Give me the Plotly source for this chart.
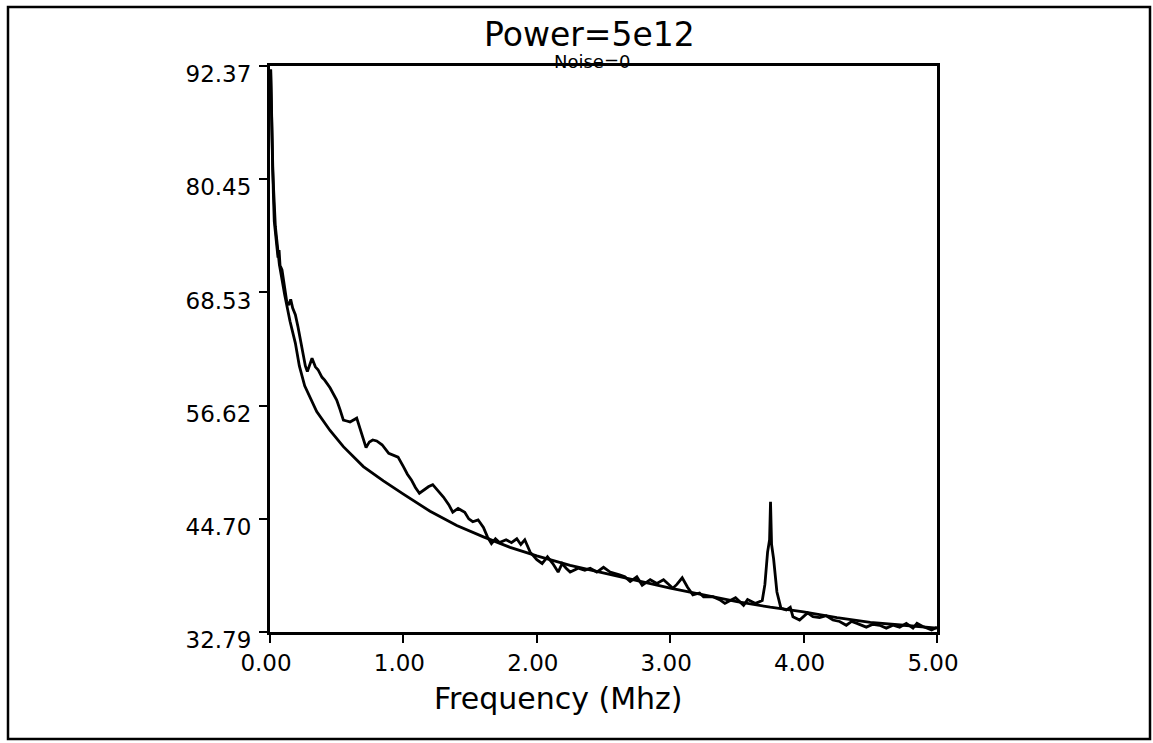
import plotly.graph_objects as go

# ---- data ----
smooth_freq = [0.005, 0.01, 0.02, 0.04, 0.07, 0.11, 0.15, 0.19, 0.22, 0.26, 0.35, 0.45, 0.55,
               0.70, 0.85, 1.00, 1.20, 1.40, 1.60, 1.80, 2.00, 2.25, 2.50, 2.75, 3.00, 3.25,
               3.50, 3.75, 4.00, 4.25, 4.50, 4.75, 5.00]
smooth_power = [92.0, 88.0, 81.5, 75.5, 71.5, 68.3, 65.5, 63.2, 60.8, 58.7, 56.0, 54.0, 52.3,
                50.2, 48.7, 47.3, 45.5, 44.0, 42.8, 41.7, 40.8, 39.8, 39.0, 38.2, 37.4, 36.7,
                36.0, 35.4, 34.9, 34.3, 33.8, 33.5, 33.2]

noisy_freq = [0.005, 0.012, 0.018, 0.025, 0.032, 0.04, 0.05, 0.06, 0.068, 0.075, 0.09, 0.11,
              0.125, 0.14, 0.155, 0.17, 0.19, 0.21, 0.24, 0.265, 0.28, 0.30, 0.315, 0.34, 0.36,
              0.39, 0.41, 0.45, 0.48, 0.50, 0.525, 0.55, 0.575, 0.60, 0.65, 0.68, 0.72, 0.745,
              0.77, 0.80, 0.84, 0.89, 0.93, 0.96, 1.00, 1.03, 1.06, 1.09, 1.12, 1.15, 1.19,
              1.22, 1.26, 1.30, 1.34, 1.37, 1.41, 1.46, 1.49, 1.52, 1.56, 1.60, 1.63, 1.66,
              1.69, 1.72, 1.77, 1.81, 1.85, 1.88, 1.91, 1.95, 2.00, 2.04, 2.08, 2.12, 2.16,
              2.19, 2.22, 2.25, 2.31, 2.36, 2.40, 2.45, 2.50, 2.55, 2.62, 2.66, 2.70, 2.75,
              2.79, 2.85, 2.90, 2.95, 3.02, 3.05, 3.09, 3.13, 3.17, 3.22, 3.25, 3.32, 3.37,
              3.41, 3.45, 3.49, 3.55, 3.58, 3.64, 3.69, 3.71, 3.73, 3.745, 3.752, 3.76, 3.775,
              3.80, 3.83, 3.87, 3.90, 3.92, 3.97, 4.03, 4.07, 4.12, 4.17, 4.22, 4.27, 4.32,
              4.36, 4.40, 4.47, 4.52, 4.57, 4.62, 4.67, 4.72, 4.77, 4.82, 4.85, 4.89, 4.92,
              4.96, 5.00]
noisy_power = [92.0, 86.0, 80.5, 79.0, 76.0, 75.0, 73.3, 72.2, 73.0, 71.4, 70.9, 69.0,
               67.6, 67.2, 67.8, 66.9, 66.2, 64.9, 62.5, 60.8, 60.2, 61.0, 61.6, 60.7, 60.4,
               59.6, 59.3, 58.5, 57.8, 57.2, 56.2, 55.1, 55.0, 54.9, 55.3, 54.0, 52.2, 52.8,
               53.0, 52.9, 52.5, 51.6, 51.4, 51.2, 50.2, 49.4, 48.8, 48.0, 47.4, 47.7, 48.1,
               48.3, 47.7, 47.0, 46.2, 45.4, 45.8, 45.4, 44.7, 44.4, 44.6, 43.8, 42.8, 42.1,
               42.6, 42.2, 42.5, 42.2, 42.6, 42.0, 42.5, 41.2, 40.4, 40.0, 40.7, 40.0, 39.1,
               40.0, 39.5, 39.1, 39.5, 39.3, 39.5, 39.1, 39.6, 39.1, 38.8, 38.6, 38.1, 38.6,
               37.7, 38.3, 37.9, 38.3, 37.4, 37.8, 38.5, 37.5, 36.7, 36.9, 36.5, 36.5, 36.2,
               35.8, 36.1, 36.4, 35.6, 36.2, 35.8, 36.1, 37.8, 41.2, 42.5, 46.5, 42.0, 40.5,
               37.0, 35.3, 35.1, 35.4, 34.4, 34.05, 34.8, 34.4, 34.3, 34.5, 34.05, 33.9, 33.5,
               33.9, 33.7, 33.3, 33.6, 33.5, 33.2, 33.5, 33.3, 33.7, 33.2, 33.7, 33.4, 33.2,
               33.0, 33.3]

y_ticks = [32.79, 44.70, 56.62, 68.53, 80.45, 92.37]
y_tick_labels = ["32.79", "44.70", "56.62", "68.53", "80.45", "92.37"]
x_ticks = [0, 1, 2, 3, 4, 5]
x_tick_labels = ["0.00", "1.00", "2.00", "3.00", "4.00", "5.00"]

title_text = "Power=5e12"
subtitle_text = "Noise=0"
x_label = "Frequency (Mhz)"

# ---- layout geometry (pixels) ----
W, H = 1153, 743
L, R, T, B = 270, 937, 66, 632
pw, ph = R - L, B - T


def px(x):
    return (x - L) / pw


def py(y):
    return (B - y) / ph


FONT = "DejaVu Sans"

fig = go.Figure()
fig.add_trace(go.Scatter(x=smooth_freq, y=smooth_power, mode="lines",
                         line=dict(color="black", width=2.8), showlegend=False))
fig.add_trace(go.Scatter(x=noisy_freq, y=noisy_power, mode="lines",
                         line=dict(color="black", width=2.8), showlegend=False))

axis_common = dict(showgrid=False, zeroline=False, showline=True, linecolor="black",
                   linewidth=3, mirror=True, ticks="outside", ticklen=8, tickwidth=2,
                   tickcolor="black", tickfont=dict(family=FONT, size=23, color="black"))

fig.update_xaxes(range=[0, 5], tickvals=x_ticks, ticktext=x_tick_labels,
                 ticklabelshift=-4, ticklabelstandoff=0, **axis_common)
fig.update_yaxes(range=[32.79, 92.37], tickvals=y_ticks, ticktext=y_tick_labels,
                 ticklabelshift=8, ticklabelstandoff=3, **axis_common)

annotations = [
    dict(text=title_text, x=px(589), y=py(34), xref="paper", yref="paper",
         showarrow=False, xanchor="center", yanchor="middle",
         font=dict(family=FONT, size=33, color="black")),
    dict(text=subtitle_text, x=px(592), y=py(62), xref="paper", yref="paper",
         showarrow=False, xanchor="center", yanchor="middle",
         font=dict(family=FONT, size=18, color="black")),
    dict(text=x_label, x=px(558), y=py(698), xref="paper", yref="paper",
         showarrow=False, xanchor="center", yanchor="middle",
         font=dict(family=FONT, size=30, color="black")),
]

shapes = [
    dict(type="rect", xref="paper", yref="paper",
         x0=px(8), x1=px(1150), y0=py(739), y1=py(7),
         line=dict(color="black", width=2.5), fillcolor="rgba(0,0,0,0)", layer="below"),
]

fig.update_layout(width=W, height=H, autosize=False,
                  margin=dict(l=L, r=W - R, t=T, b=H - B, pad=0),
                  paper_bgcolor="white", plot_bgcolor="white",
                  annotations=annotations, shapes=shapes, showlegend=False)

fig.write_html("out.html")
